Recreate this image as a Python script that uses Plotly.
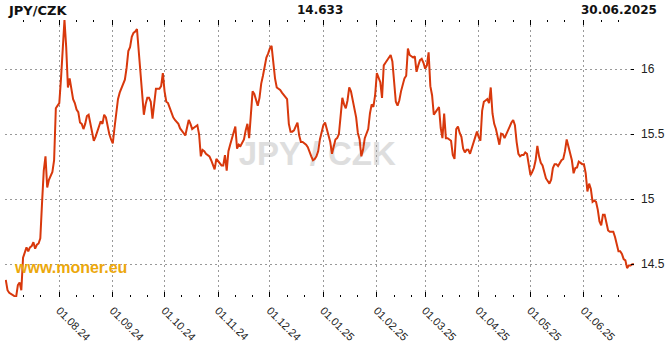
import pandas as pd
import plotly.graph_objects as go

pair = "JPY/CZK"
watermark = "JPY / CZK"
last_value = "14.633"
last_date = "30.06.2025"
site = "www.moner.eu"
start_date, end_date = "2024-07-01", "2025-06-30"

values = [
    14.38, 14.30, 14.28, 14.27, 14.26, 14.255, 14.25, 14.34, 14.36, 14.30,
    14.55, 14.60, 14.63, 14.60, 14.63, 14.64, 14.67, 14.62, 14.65, 14.66,
    14.70, 14.97, 15.22, 15.33, 15.09, 15.15, 15.18, 15.21, 15.30, 15.70,
    15.72, 15.74, 15.93, 16.17, 16.38, 16.17, 15.86, 15.93, 15.83, 15.77,
    15.74, 15.69, 15.67, 15.59, 15.58, 15.54, 15.58, 15.64, 15.65, 15.58,
    15.52, 15.45, 15.48, 15.52, 15.56, 15.60, 15.58, 15.65, 15.63, 15.55,
    15.50, 15.46, 15.43, 15.55, 15.67, 15.77, 15.82, 15.85, 15.89, 15.92,
    16.01, 16.14, 16.17, 16.25, 16.28, 16.29, 16.31, 16.13, 15.95, 15.78,
    15.65, 15.73, 15.78, 15.78, 15.75, 15.62, 15.72, 15.85, 15.85, 15.85,
    15.87, 15.97, 15.83, 15.75, 15.74, 15.70, 15.66, 15.63, 15.61, 15.59,
    15.58, 15.545, 15.53, 15.51, 15.49, 15.55, 15.61, 15.58, 15.54, 15.55,
    15.56, 15.57, 15.50, 15.33, 15.38, 15.37, 15.35, 15.34, 15.33, 15.30,
    15.26, 15.23, 15.31, 15.29, 15.27, 15.26, 15.26, 15.34, 15.22, 15.37,
    15.42, 15.47, 15.53, 15.56, 15.39, 15.42, 15.41, 15.43, 15.46, 15.53,
    15.58, 15.47, 15.68, 15.83, 15.81, 15.77, 15.72, 15.78, 15.89, 15.95,
    16.03, 16.09, 16.12, 16.16, 16.18, 16.05, 15.93, 15.86, 15.85, 15.84,
    15.82, 15.80, 15.78, 15.77, 15.58, 15.52, 15.52, 15.53, 15.56, 15.59,
    15.49, 15.44, 15.44, 15.43, 15.42, 15.40, 15.36, 15.33, 15.30, 15.31,
    15.33, 15.37, 15.46, 15.51, 15.57, 15.59, 15.54, 15.48, 15.44, 15.35,
    15.40, 15.46, 15.47, 15.50, 15.64, 15.78, 15.73, 15.70, 15.76, 15.86,
    15.83, 15.76, 15.69, 15.63, 15.51, 15.46, 15.33, 15.38, 15.47, 15.51,
    15.54, 15.66, 15.73, 15.71, 15.80, 15.97, 15.93, 15.90, 15.78, 16.03,
    16.05, 16.07, 16.09, 16.11, 16.06, 15.88, 15.75, 15.72, 15.76, 15.83,
    15.89, 15.93, 15.95, 16.16, 16.11, 16.10, 16.09, 16.10, 15.98, 16.03,
    16.07, 16.08, 16.05, 16.005, 16.03, 16.13, 15.87, 15.80, 15.65, 15.67,
    15.69, 15.71, 15.55, 15.47, 15.66, 15.47, 15.47, 15.46, 15.45, 15.34,
    15.31, 15.54, 15.56, 15.51, 15.48, 15.39, 15.36, 15.38, 15.38, 15.35,
    15.39, 15.43, 15.48, 15.52, 15.48, 15.45, 15.68, 15.75, 15.76, 15.77,
    15.74, 15.86, 15.66, 15.58, 15.54, 15.48, 15.42, 15.505, 15.50, 15.47,
    15.50, 15.53, 15.57, 15.59, 15.61, 15.57, 15.44, 15.35, 15.33, 15.34,
    15.34, 15.36, 15.35, 15.27, 15.185, 15.21, 15.24, 15.30, 15.41, 15.33,
    15.28, 15.26, 15.21, 15.16, 15.14, 15.12, 15.15, 15.24, 15.27, 15.27,
    15.255, 15.28, 15.30, 15.31, 15.37, 15.46, 15.40, 15.36, 15.30, 15.20,
    15.24, 15.245, 15.29, 15.28, 15.27, 15.27, 15.20, 15.06, 15.12, 15.08,
    14.98, 14.99, 14.98, 14.92, 14.83, 14.80, 14.88, 14.88, 14.81, 14.76,
    14.75, 14.75, 14.75, 14.71, 14.66, 14.60, 14.60, 14.58, 14.54, 14.53,
    14.47, 14.49, 14.49, 14.50, 14.50,
]

tick_dates = ["2024-08-01", "2024-09-01", "2024-10-01", "2024-11-01", "2024-12-01",
              "2025-01-01", "2025-02-01", "2025-03-01", "2025-04-01", "2025-05-01",
              "2025-06-01"]
tick_labels = ["01.08.24", "01.09.24", "01.10.24", "01.11.24", "01.12.24",
               "01.01.25", "01.02.25", "01.03.25", "01.04.25", "01.05.25",
               "01.06.25"]
y_ticks = [14.5, 15, 15.5, 16]
y_tick_labels = ["14.5", "15", "15.5", "16"]

dates = pd.date_range(start_date, end_date, freq="D")
minor_ticks = [d for d in dates if d.day in (11, 21)]

fig = go.Figure(go.Scatter(
    x=dates, y=values, mode="lines",
    line=dict(color="#d8380c", width=2),
    hoverinfo="skip",
))

fig.update_layout(
    width=670, height=350,
    margin=dict(l=5, r=36, t=20, b=53),
    paper_bgcolor="white", plot_bgcolor="white",
    showlegend=False,
)

fig.update_xaxes(
    range=["2024-06-30 13:00", "2025-06-30 00:00"],
    tickmode="array", tickvals=tick_dates, ticktext=tick_labels,
    tickangle=45,
    ticks="inside", ticklen=5, tickwidth=1, tickcolor="#000",
    mirror="ticks", showline=False, zeroline=False,
    showgrid=True, gridcolor="#999999", griddash="2px,3px", gridwidth=1,
    ticklabelstandoff=4,
    tickfont=dict(family="Liberation Sans, Arial, sans-serif", size=11, color="#222"),
    minor=dict(tickmode="array", tickvals=minor_ticks, ticks="inside", ticklen=2,
               tickwidth=1, tickcolor="#000", showgrid=False),
)

fig.update_yaxes(
    side="right",
    range=[14.248, 16.379],
    tickmode="array", tickvals=y_ticks, ticktext=y_tick_labels,
    ticks="inside", ticklen=3, tickwidth=1, tickcolor="#000",
    showline=False, zeroline=False,
    showgrid=True, gridcolor="#999999", griddash="2px,3px", gridwidth=1,
    ticklabelstandoff=6,
    tickfont=dict(family="Liberation Sans, Arial, sans-serif", size=12, color="#222"),
)

fig.add_shape(
    type="rect", xref="paper", yref="paper", x0=0, x1=0.993, y0=0.06, y1=1,
    line=dict(width=0), fillcolor="rgba(0,0,0,0)", layer="between",
    label=dict(text="<b>" + watermark + "</b>", textposition="middle center",
               font=dict(family="Liberation Sans, Arial, sans-serif", size=33, color="#dedede")),
)

head_font = dict(family="DejaVu Sans, sans-serif", size=12, color="#111")
fig.add_annotation(text="<b>" + pair + "</b>", xref="paper", yref="paper",
                   x=0.0027, y=1.036, xanchor="left", yanchor="middle",
                   showarrow=False, borderpad=0,
                   font=dict(family="DejaVu Sans, sans-serif", size=13, color="#111"))
fig.add_annotation(text="<b>" + last_value + "</b>", xref="paper", yref="paper",
                   x=0.5008, y=1.036, xanchor="center", yanchor="middle",
                   showarrow=False, borderpad=0, font=head_font)
fig.add_annotation(text="<b>" + last_date + "</b>", xref="paper", yref="paper",
                   x=1.0386, y=1.036, xanchor="right", yanchor="middle",
                   showarrow=False, borderpad=0, font=head_font)
fig.add_annotation(text="<b>" + site + "</b>", xref="paper", yref="paper",
                   x=0.0122, y=0.1047, xanchor="left", yanchor="middle",
                   showarrow=False, borderpad=0,
                   font=dict(family="Liberation Sans, Arial, sans-serif", size=16, color="#eca80c"))

fig.write_html("out.html")
